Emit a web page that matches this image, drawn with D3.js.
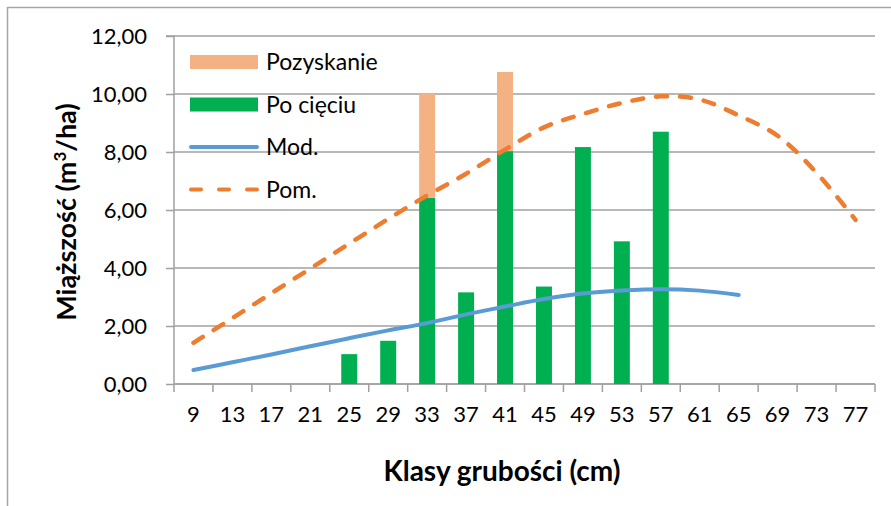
<!DOCTYPE html>
<html>
<head>
<meta charset="utf-8">
<script src="https://cdn.jsdelivr.net/npm/d3@7"></script>
<style>
  html, body { margin: 0; padding: 0; background: #fff; }
  svg { display: block; }
  text { font-family: Lato, "Open Sans", sans-serif; fill: #000; }
</style>
</head>
<body>
<svg id="chart" width="891" height="506"></svg>
<script>
// Diameter classes (cm)
const categories = [9, 13, 17, 21, 25, 29, 33, 37, 41, 45, 49, 53, 57, 61, 65, 69, 73, 77];
// Volume remaining after cutting (m3/ha)
const poCieciu = [0, 0, 0, 0, 1.03, 1.49, 6.42, 3.16, 8.03, 3.36, 8.17, 4.92, 8.70, 0, 0, 0, 0, 0];
// Harvested volume stacked on top (m3/ha)
const pozyskanie = [0, 0, 0, 0, 0, 0, 3.60, 0, 2.73, 0, 0, 0, 0, 0, 0, 0, 0, 0];
// Model curve (classes 9–65)
const mod = [0.48, 0.75, 1.02, 1.30, 1.58, 1.85, 2.10, 2.40, 2.67, 2.93, 3.12, 3.22, 3.27, 3.22, 3.07];
// Measured curve (classes 9–77)
const pom = [1.42, 2.27, 3.13, 3.98, 4.84, 5.69, 6.50, 7.25, 8.08, 8.85, 9.31, 9.69, 9.92, 9.81, 9.26, 8.56, 7.28, 5.66];
const yTicks = [0, 2, 4, 6, 8, 10, 12];

const svg = d3.select("#chart");
const plot = { left: 174, right: 875, top: 36, bottom: 384 };

// outer frame (top and left edges visible)
svg.append("line").attr("x1", 7).attr("x2", 891).attr("y1", 7.5).attr("y2", 7.5)
  .attr("stroke", "#a6a6a6").attr("stroke-width", 1.5);
svg.append("line").attr("x1", 7.5).attr("x2", 7.5).attr("y1", 7).attr("y2", 506)
  .attr("stroke", "#a6a6a6").attr("stroke-width", 1.5);

const x = d3.scaleBand().domain(categories).range([plot.left, plot.right]).paddingInner(0).paddingOuter(0);
const y = d3.scaleLinear().domain([0, 12]).range([plot.bottom, plot.top]);

// gridlines
svg.append("g").selectAll("line").data(yTicks).join("line")
  .attr("x1", plot.left).attr("x2", plot.right)
  .attr("y1", d => y(d)).attr("y2", d => y(d))
  .attr("stroke", "#a0a0a0").attr("stroke-width", 1.5);

// y axis
const yAxis = d3.axisLeft(y).tickValues(yTicks).tickSize(8).tickPadding(8)
  .tickFormat(d => d3.format(".2f")(d).replace(".", ","));
const gy = svg.append("g").attr("transform", `translate(${plot.left},0)`).call(yAxis);
gy.select(".domain").attr("stroke", "#a0a0a0").attr("stroke-width", 1.5).attr("d", `M-8,${plot.top}H0V${plot.bottom}`);
gy.selectAll(".tick line").attr("stroke", "#a0a0a0").attr("stroke-width", 1.5);
gy.selectAll(".tick text").style("font-size", "22px").attr("x", -27);

// x axis with ticks between classes
const gx = svg.append("g").attr("transform", `translate(0,${plot.bottom})`);
gx.append("line").attr("x1", plot.left).attr("x2", plot.right).attr("y1", 0).attr("y2", 0)
  .attr("stroke", "#a0a0a0").attr("stroke-width", 1.5);
const boundaries = categories.map(c => x(c)).concat([x(categories[categories.length - 1]) + x.bandwidth()]);
gx.selectAll(".tk").data(boundaries).join("line").attr("class", "tk")
  .attr("x1", d => d).attr("x2", d => d).attr("y1", 0).attr("y2", 8)
  .attr("stroke", "#a0a0a0").attr("stroke-width", 1.5);
gx.selectAll(".lbl").data(categories).join("text").attr("class", "lbl")
  .attr("x", d => x(d) + x.bandwidth() / 2).attr("y", 38)
  .attr("text-anchor", "middle").style("font-size", "22px").text(d => d);

// stacked bars
const rows = categories.map((c, i) => ({ cat: c, po: poCieciu[i], poz: pozyskanie[i] }));
const stack = d3.stack().keys(["po", "poz"])(rows);
const colors = { po: "#00b050", poz: "#f4b183" };
const barW = x.bandwidth() * 0.41;
svg.append("g").selectAll("g").data(stack).join("g")
  .attr("fill", s => colors[s.key])
  .selectAll("rect").data(s => s.filter(d => d[1] - d[0] > 0)).join("rect")
  .attr("x", d => x(d.data.cat) + (x.bandwidth() - barW) / 2)
  .attr("width", barW)
  .attr("y", d => y(d[1]))
  .attr("height", d => y(d[0]) - y(d[1]));

// curves
const line = d3.line()
  .x((d, i) => x(categories[i]) + x.bandwidth() / 2)
  .y(d => y(d))
  .curve(d3.curveCatmullRom.alpha(0.5));

svg.append("path").attr("d", line(mod)).attr("fill", "none")
  .attr("stroke", "#5b9bd5").attr("stroke-width", 4).attr("stroke-linecap", "round");
svg.append("path").attr("d", line(pom)).attr("fill", "none")
  .attr("stroke", "#ed7d31").attr("stroke-width", 4.5).attr("stroke-linecap", "round")
  .attr("stroke-dasharray", "11,13");

// legend
const legend = svg.append("g");
const items = [
  { label: "Pozyskanie", type: "rect", color: "#f4b183" },
  { label: "Po cięciu", type: "rect", color: "#00b050" },
  { label: "Mod.", type: "line", color: "#5b9bd5" },
  { label: "Pom.", type: "dash", color: "#ed7d31" }
];
items.forEach((it, i) => {
  const cy = 62 + i * 42.5;
  if (it.type === "rect") {
    legend.append("rect").attr("x", 190).attr("y", cy - 7).attr("width", 68).attr("height", 14).attr("fill", it.color);
  } else {
    const l = legend.append("line").attr("x1", 191).attr("x2", 257).attr("y1", cy).attr("y2", cy)
      .attr("stroke", it.color).attr("stroke-width", 4).attr("stroke-linecap", "round");
    if (it.type === "dash") l.attr("stroke-dasharray", "10,18");
  }
  legend.append("text").attr("x", 266).attr("y", cy + 8).style("font-size", "23px").text(it.label);
});

// axis titles
svg.append("text").attr("x", 502).attr("y", 481).attr("text-anchor", "middle")
  .style("font-size", "28px").style("font-weight", "bold").text("Klasy grubości (cm)");
svg.append("text").attr("transform", "translate(76,212) rotate(-90)").attr("text-anchor", "middle")
  .style("font-size", "27px").style("font-weight", "bold")
  .html('Miąższość (m<tspan dy="-10" font-size="17">3</tspan><tspan dy="10">/ha)</tspan>');
</script>
</body>
</html>
